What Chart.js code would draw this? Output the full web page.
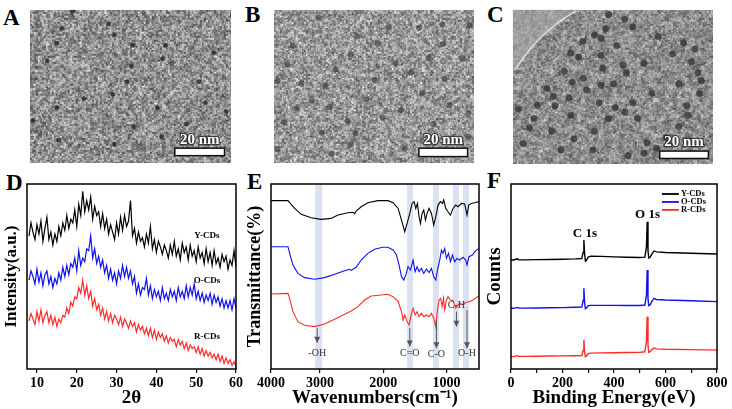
<!DOCTYPE html>
<html><head><meta charset="utf-8">
<script src="https://cdn.jsdelivr.net/npm/chart.js@4.4.0/dist/chart.umd.min.js"></script>
<style>
html,body{margin:0;padding:0;background:#fff}
body{width:732px;height:409px;position:relative;overflow:hidden}
.box{position:absolute}
.lbl{position:absolute;font:bold 23px "Liberation Serif",serif;color:#000;line-height:1}
</style></head><body>
<div class="lbl" style="left:3px;top:6px">A</div>
<div class="lbl" style="left:245px;top:3px">B</div>
<div class="lbl" style="left:487px;top:3px">C</div>
<div class="lbl" style="left:6px;top:171px">D</div>
<div class="lbl" style="left:247px;top:170px">E</div>
<div class="lbl" style="left:487px;top:169px">F</div>
<div class="box" style="left:25px;top:5px;width:211px;height:163px"><canvas id="temA"></canvas></div>
<div class="box" style="left:269px;top:5px;width:210px;height:163px"><canvas id="temB"></canvas></div>
<div class="box" style="left:508px;top:5px;width:210px;height:164px"><canvas id="temC"></canvas></div>
<div class="box" style="left:0px;top:175px;width:250px;height:234px"><canvas id="xrd"></canvas></div>
<div class="box" style="left:240px;top:175px;width:250px;height:234px"><canvas id="ftir"></canvas></div>
<div class="box" style="left:480px;top:175px;width:252px;height:234px"><canvas id="xps"></canvas></div>
<script>
// ---------------- DATA ----------------
// TEM particle positions (% of image width, % of image height from top)
const temA = [[15.8,12.2],[39.1,9.2],[42,16.3],[13.5,21.8],[51.2,23.1],[67.4,23.1],[91.4,28],[65.8,32],[8.7,33.3],[50.4,36.7],[48.3,46.9],[84,46.9],[26.9,57.8],[41.2,55.1],[63.4,63.9],[13.5,63.9],[87.2,60.6],[97.5,66.3],[51.5,76.1],[65.5,82.7],[42,87.8],[14.3,85.1],[1.6,72],[77.7,74.5],[21.4,1]];
const temB = [[22.5,5.1],[51.9,21.8],[72.5,11.6],[84.1,9.6],[97.9,10.2],[57.5,11.2],[9.5,23.5],[38.4,29.2],[31,38.8],[50.3,45.5],[1.9,46.3],[25.7,49.6],[68.6,40.8],[85.2,44.9],[84.4,22.4],[94,31.6],[97.1,67.3],[28.1,63.3],[11.4,64.3],[5.1,73.5],[24.1,80.2],[40.8,80.6],[63.5,65.3],[74.1,54.1],[19,59.2],[36.8,72.4],[54.3,70.4],[79.7,74.5],[65.4,90.8],[28.9,93.9],[38.4,87.8],[87.6,62.2],[1.9,90.8],[13.8,48],[46.3,58.2],[60.6,34.7],[77.3,31.6],[6.7,35.7],[41.6,17.3],[97.1,82.7]];
const temC = [[47.9,3.1],[55.9,6.1],[59.8,11.2],[46.3,12.2],[40.8,16.3],[44,18.4],[34.9,20.4],[51.9,23.1],[72.5,17.3],[85.2,21.4],[90.8,25.5],[28.9,28],[32.9,30.6],[44,29.6],[65.4,34.7],[79.7,28.6],[89.2,33.7],[25.7,39.8],[29.7,46.9],[35.2,44.3],[44.8,37.8],[55.1,35.7],[56.7,40.8],[17,51],[20.2,56.1],[28.1,57.1],[36.8,52],[44,49],[50.3,48],[12.2,61.8],[21,62.2],[28.9,68.4],[43.2,60.2],[51.1,63.3],[59.8,60.2],[69.4,54.1],[82.9,48],[92.4,40.8],[94,45.9],[93.2,54.1],[86.8,62.2],[87.3,68.4],[82.9,75.5],[62.2,70.4],[55.9,66.3],[10.6,70.4],[8.3,76.5],[19.4,78.6],[30.5,83.7],[40.8,78.6],[47.9,70.4],[67,86.3],[71.7,89.8],[57.5,94.5],[65.4,92.9],[5.1,86.7],[24.1,90.8],[76.5,82.7],[2.7,64.3],[40,90.8]];
// film edge in image C (% coords)
const temCEdge = [[1.1,38.8],[5.1,31.6],[9.8,23.5],[15.4,16.3],[21.7,9.2],[27.3,4.1],[31.3,1]];

// XRD (panel D)
const twoTheta = [8,8.5,9,9.5,10,10.5,11,11.5,12,12.5,13,13.5,14,14.5,15,15.5,16,16.5,17,17.5,18,18.5,19,19.5,20,20.5,21,21.5,22,22.5,23,23.5,24,24.5,25,25.5,26,26.5,27,27.5,28,28.5,29,29.5,30,30.5,31,31.5,32,32.5,33,33.5,34,34.5,35,35.5,36,36.5,37,37.5,38,38.5,39,39.5,40,40.5,41,41.5,42,42.5,43,43.5,44,44.5,45,45.5,46,46.5,47,47.5,48,48.5,49,49.5,50,50.5,51,51.5,52,52.5,53,53.5,54,54.5,55,55.5,56,56.5,57,57.5,58,58.5,59,59.5,60];
const xrdY = [72,79,74,70,78,73,80,69,76,82, 70,74,67,73,69,77,72,79,75,83, 76,81,79,86,77,89,83,96,85,91, 86,93,81,88,83,85,77,84,76,81, 73,78,74,70,79,73,82,75,83,77, 80,91,72,76,68,74,69,71,66,73, 68,77,65,70,63,69,66,62,67,64, 60,67,62,69,61,65,59,68,63,66, 59,67,61,64,58,66,60,63,57,65, 58,63,56,64,57,60,55,62,58,61, 54,59,56,64,55];
const xrdO = [48,53,50,46,54,47,52,45,51,53, 46,50,44,49,46,52,48,55,50,56, 51,57,55,60,53,64,56,60,58,65, 64,72,60,65,57,61,55,59,52,56, 49,54,48,52,46,53,49,56,50,55, 49,53,46,50,41,46,40,44,43,49, 40,45,38,43,39,42,37,44,38,41, 37,43,39,42,37,44,39,42,38,45, 39,44,40,46,38,42,37,41,36,40, 37,41,35,40,36,39,34,38,33,37, 33,37,32,38,33];
const xrdR = [26,30,27,24,31,26,32,25,29,31, 25,29,24,28,23,27,25,29,28,33, 30,36,34,39,38,44,41,48,40,45, 38,42,34,38,32,35,29,33,27,31, 26,30,25,29,27,24,28,23,27,25, 22,26,23,25,20,24,21,23,19,22, 18,22,17,21,16,20,17,19,15,18, 14,17,15,16,12,16,13,15,11,14, 10,13,11,12,9,12,8,11,7,10, 7,9,6,8,5,8,4,7,3,6, 3,5,2,4,1];
const xrdTicks = [10,20,30,40,50,60];
const xrdNames = ['Y-CDs','O-CDs','R-CDs'];

// FTIR (panel E)
const ftirBlackX = [3771,3507,3401,3297,3139,2981,2823,2717,2611,2559,2480,2450,2428,2349,2243,2085,1927,1843,1764,1711,1659,1622,1580,1543,1512,1485,1459,1433,1411,1385,1359,1332,1306,1275,1237,1201,1169,1133,1095,1063,1043,1011,975,937,896,853,817,763,711,675,648,605,553,485];
const ftirBlackY = [91.0,91.0,86.8,83.6,81.8,80.9,81.4,83.2,84.1,84.5,84.7,84.0,85.4,87.7,89.9,91.0,91.0,89.9,86.8,80.5,74.2,78.7,84.1,89.5,90.5,86.8,89.5,82.3,78.7,84.1,85.9,80.5,84.1,86.8,84.1,77.8,82.3,88.6,90.5,89.5,91.4,86.8,85.0,83.2,86.8,88.6,87.7,89.5,89.2,83.2,88.6,89.5,89.9,90.5];
const ftirBlueX = [3771,3507,3480,3428,3349,3243,3085,2927,2769,2611,2532,2507,2428,2349,2243,2137,2006,1927,1843,1790,1749,1711,1675,1643,1607,1569,1527,1496,1464,1433,1395,1359,1316,1275,1237,1201,1169,1137,1106,1079,1054,1027,1000,968,937,905,869,833,790,738,695,675,643,589,537,485];
const ftirBlueY = [66.1,66.1,62.5,56.2,51.7,49.4,48.5,49.4,51.2,53.1,53.9,53.3,55.0,58.9,62.5,64.7,65.8,65.8,64.3,61.6,56.2,49.9,48.1,50.8,55.3,53.5,58.9,52.6,55.3,52.6,54.4,51.7,53.9,52.1,54.4,49.9,48.1,54.4,58.9,64.3,62.5,65.2,59.8,62.5,58.0,61.6,58.0,59.8,58.9,60.4,58.9,56.2,60.7,61.6,64.0,65.2];
const ftirRedX = [3771,3507,3480,3428,3349,3243,3085,2927,2769,2611,2507,2401,2295,2191,2033,1927,1843,1764,1711,1685,1659,1622,1591,1553,1527,1496,1464,1433,1395,1359,1316,1275,1237,1201,1169,1148,1117,1090,1069,1047,1027,1000,975,937,896,853,817,779,738,695,643,580,526,485];
const ftirRedY = [40.5,40.9,38.2,31.0,25.6,23.6,22.9,24.3,26.9,29.6,31.4,33.7,37.3,39.5,40.0,40.4,39.1,36.4,31.0,26.5,29.2,25.6,23.8,30.1,32.8,29.2,31.0,28.3,30.1,28.3,29.2,28.3,30.1,27.4,22.9,30.1,37.3,38.2,33.7,38.2,31.9,37.3,39.1,37.3,36.9,32.8,34.6,35.5,34.6,35.9,36.4,37.3,38.7,39.5];
const ftirTickValues = [3775,3000,2000,1000];
const ftirTickLabels = ['4000','3000','2000','1000'];
const ftirBands = [[3075,2965],[1622,1527],[1212,1117],[896,801],[738,643]];
const ftirGroups = ['-OH','C=O','C-O','C-H','O-H'];
const ftirGroupWn = [3044,1580,1158,842,675];

// XPS (panel F)
const xpsBE = [0,10,25,30,50,100,150,200,250,275,280,283,286,289,292,300,310,350,400,450,500,520,526,529,532,535,540,548,556,565,600,700,800];
const xpsY = [58.9,58.9,59.6,59.0,59.0,59.1,59.2,59.3,59.5,59.7,63,69.7,62,58.4,58.6,60.5,61.0,60.9,60.6,60.4,60.3,60.5,66,79.6,64,60.0,60.3,62.4,63.8,63.3,63.0,62.6,62.2];
const xpsO = [32.8,32.8,33.3,32.9,32.9,33.0,33.1,33.2,33.4,33.5,37,43.6,35.5,32.5,32.8,34.2,34.4,34.4,34.4,34.3,34.3,34.6,40,53.5,38,34.2,34.6,36.8,38.2,37.6,37.3,36.9,36.4];
const xpsR = [6.7,6.7,7.2,6.8,6.8,6.9,7.0,7.1,7.2,7.3,10,15.7,9.0,6.6,6.9,8.3,8.6,8.7,8.8,8.9,9.0,9.3,15,28.3,13,9.0,9.4,10.6,11.3,10.9,10.7,10.5,10.2];
const xpsTicks = [0,100,200,300,400,500,600,700,800];
const xpsTickLabels = ['0','','200','','400','','600','','800'];
const xpsPeaks = ['C 1s','O 1s'];

// ---------------- STYLE / HELPERS ----------------
const SERIF = '"Liberation Serif", serif';
const BLACK = '#000000', BLUE = '#1010f0', RED = '#ff2a2a';
const hash = (i,j,s) => { let n = (Math.imul(i,374761393) + Math.imul(j,668265263) + Math.imul(s,1442695041)) | 0; n = Math.imul(n ^ (n>>>13), 1274126177); n ^= n>>>16; return (n>>>0)/4294967296; };

const temPlugin = {
  id:'tem',
  beforeDatasetsDraw(chart, args, o){
    const {ctx, chartArea:a} = chart;
    const w = Math.round(a.right-a.left), h = Math.round(a.bottom-a.top);
    if(!chart.$tex || chart.$tex.width!==w || chart.$tex.height!==h){
      const off = document.createElement('canvas'); off.width=w; off.height=h;
      const c = off.getContext('2d'); const im = c.createImageData(w,h);
      for(let j=0;j<h;j++) for(let i=0;i<w;i++){
        const n1 = hash(i>>1,j>>1,o.seed), n2 = hash(i,j,o.seed+7), n3 = hash(i>>2,j>>2,o.seed+13);
        let v = o.base + (n1-0.5)*o.a1 + (n2-0.5)*o.a2 + (n3-0.5)*o.a3;
        if(n2>0.94) v += o.spark;
        v = Math.max(0,Math.min(255,v));
        const k=(j*w+i)*4; im.data[k]=im.data[k+1]=im.data[k+2]=v; im.data[k+3]=255;
      }
      c.putImageData(im,0,0); chart.$tex = off;
    }
    ctx.save();
    ctx.drawImage(chart.$tex, a.left, a.top, w, h);
    if(o.edge){
      const xs = chart.scales.x, ys = chart.scales.y;
      ctx.beginPath();
      ctx.moveTo(xs.getPixelForValue(0), ys.getPixelForValue(0));
      ctx.lineTo(xs.getPixelForValue(34), ys.getPixelForValue(0));
      o.edge.slice().reverse().forEach(p=>ctx.lineTo(xs.getPixelForValue(p[0]), ys.getPixelForValue(p[1])));
      ctx.lineTo(xs.getPixelForValue(0), ys.getPixelForValue(41));
      ctx.closePath();
      ctx.fillStyle='rgba(170,170,170,0.6)'; ctx.fill();
      ctx.beginPath();
      o.edge.forEach((p,i)=>{const X=xs.getPixelForValue(p[0]),Y=ys.getPixelForValue(p[1]); i?ctx.lineTo(X,Y):ctx.moveTo(X,Y);});
      ctx.strokeStyle='rgba(235,235,235,0.8)'; ctx.lineWidth=1.6; ctx.stroke();
    }
    ctx.restore();
  },
  afterDatasetsDraw(chart, args, o){
    const {ctx} = chart; const xs = chart.scales.x, ys = chart.scales.y; const b = o.bar;
    const x0 = xs.getPixelForValue(b[0]), x1 = xs.getPixelForValue(b[1]);
    const y0 = ys.getPixelForValue(b[2]), y1 = ys.getPixelForValue(b[3]);
    ctx.save();
    ctx.fillStyle='#fff'; ctx.fillRect(x0,y0,x1-x0,y1-y0);
    ctx.strokeStyle='#111'; ctx.lineWidth=1.5; ctx.strokeRect(x0,y0,x1-x0,y1-y0);
    ctx.font='bold 15px '+SERIF; ctx.textAlign='center'; ctx.textBaseline='bottom';
    ctx.lineWidth=2.5; ctx.strokeStyle='rgba(40,40,40,0.8)';
    ctx.strokeText('20 nm',(x0+x1)/2, y0-1);
    ctx.fillStyle='#fff'; ctx.fillText('20 nm',(x0+x1)/2, y0-1);
    ctx.restore();
  }
};

function temChart(id, pts, opt){
  new Chart(document.getElementById(id), {
    type:'scatter',
    data:{datasets:[{data:pts.map(p=>({x:p[0],y:p[1]})), pointRadius:opt.r, pointBackgroundColor:opt.col, pointBorderWidth:0.8, pointBorderColor:opt.ring}]},
    options:{responsive:true, maintainAspectRatio:false, animation:false, events:[],
      layout:{padding:0},
      plugins:{legend:{display:false}, tooltip:{enabled:false}, tem:opt},
      scales:{x:{display:false,min:0,max:100}, y:{display:false,min:0,max:100,reverse:true}}},
    plugins:[temPlugin]
  });
}
temChart('temA', temA, {seed:11, base:142, a1:95, a2:40, a3:30, spark:45, r:2.2, col:'rgba(35,35,35,0.8)', ring:'rgba(60,60,60,0.4)', bar:[72,96.7,90.2,95.1]});
temChart('temB', temB, {seed:23, base:150, a1:85, a2:55, a3:25, spark:40, r:2.9, col:'rgba(60,60,60,0.62)', ring:'rgba(80,80,80,0.35)', bar:[72.4,96.7,90.2,95.7]});
temChart('temC', temC, {seed:37, base:140, a1:60, a2:45, a3:40, spark:30, r:3.3, col:'rgba(45,45,45,0.72)', ring:'rgba(70,70,70,0.4)', bar:[73.3,97.6,91.5,96.3], edge:temCEdge});

// decoration plugin for spectra panels
const decoPlugin = {
  id:'deco',
  beforeDatasetsDraw(chart, args, o){
    const {ctx, chartArea:a} = chart; const xs = chart.scales.x;
    ctx.save();
    (o.bands||[]).forEach(b=>{
      const p0 = xs.getPixelForValue(b[0]), p1 = xs.getPixelForValue(b[1]);
      ctx.fillStyle='rgba(205,215,238,0.75)';
      ctx.fillRect(Math.min(p0,p1), a.top, Math.abs(p1-p0), a.bottom-a.top);
    });
    ctx.restore();
  },
  afterDatasetsDraw(chart, args, o){
    const {ctx, chartArea:a} = chart; const xs = chart.scales.x, ys = chart.scales.y;
    ctx.save();
    (o.lines||[]).forEach(l=>{
      const X0=xs.getPixelForValue(l.x0), Y0=ys.getPixelForValue(l.y0), X1=xs.getPixelForValue(l.x1), Y1=ys.getPixelForValue(l.y1);
      ctx.strokeStyle=l.color; ctx.lineWidth=l.width; ctx.beginPath(); ctx.moveTo(X0,Y0); ctx.lineTo(X1,Y1); ctx.stroke();
      if(l.arrow){ ctx.fillStyle=l.color; ctx.beginPath(); ctx.moveTo(X1,Y1); ctx.lineTo(X1-3,Y1-6); ctx.lineTo(X1+3,Y1-6); ctx.closePath(); ctx.fill(); }
    });
    (o.texts||[]).forEach(t=>{
      ctx.font=t.font; ctx.fillStyle=t.color||'#000'; ctx.textAlign=t.align||'center'; ctx.textBaseline='middle';
      ctx.fillText(t.text, xs.getPixelForValue(t.x), ys.getPixelForValue(t.y));
    });
    ctx.strokeStyle='#000'; ctx.lineWidth=1.5;
    ctx.strokeRect(a.left, a.top, a.right-a.left, a.bottom-a.top);
    if(o.ytitle){
      ctx.translate(o.ytitle.x, (a.top+a.bottom)/2); ctx.rotate(-Math.PI/2);
      ctx.font='bold '+o.ytitle.size+'px '+SERIF; ctx.fillStyle='#000'; ctx.textAlign='center'; ctx.textBaseline='middle';
      ctx.fillText(o.ytitle.text,0,0);
    }
    ctx.restore();
  }
};

function xAxis(min, max, reverse, tickVals, labelFn, title){
  return {type:'linear', min, max, reverse,
    afterBuildTicks: s => { s.ticks = tickVals.map(v=>({value:v})); },
    afterFit: s => { s.height = 40; },
    ticks:{callback:labelFn, font:{family:SERIF, weight:'bold', size:14}, color:'#000', maxRotation:0, autoSkip:false, padding:2},
    grid:{display:true, drawOnChartArea:false, tickLength:4, color:'#000', lineWidth:1.2},
    border:{display:false},
    title:{display:true, text:title, font:{family:SERIF, weight:'bold', size:19}, color:'#000', padding:{top:0,bottom:0}}
  };
}
function lineDs(xs, ys, color, w){
  return {data:xs.map((x,i)=>({x, y:ys[i]})), borderColor:color, borderWidth:w, pointRadius:0, tension:0, fill:false};
}
function specChart(id, datasets, xscale, pad, deco){
  new Chart(document.getElementById(id), {
    type:'line',
    data:{datasets},
    options:{responsive:true, maintainAspectRatio:false, animation:false, events:[], parsing:true,
      layout:{padding:pad},
      plugins:{legend:{display:false}, tooltip:{enabled:false}, deco},
      scales:{x:xscale, y:{display:false, min:0, max:100}}},
    plugins:[decoPlugin]
  });
}

// Panel D
specChart('xrd',
  [lineDs(twoTheta, xrdY, BLACK, 1.2), lineDs(twoTheta, xrdO, BLUE, 1.2), lineDs(twoTheta, xrdR, RED, 1.2)],
  xAxis(7.5, 60, false, xrdTicks, v=>String(v), '2θ'),
  {left:27, right:14, top:9, bottom:0},
  {texts:[
    {text:xrdNames[0], x:52.7, y:72, font:'bold 9px '+SERIF},
    {text:xrdNames[1], x:52.7, y:47.6, font:'bold 9px '+SERIF},
    {text:xrdNames[2], x:52.7, y:17.3, font:'bold 9px '+SERIF}],
   ytitle:{text:'Intensity(a.u.)', x:12, size:17}});

// Panel E
const arrowTop = [22.0, 22.2, 26.5, 31.0, 31.9];
const arrowBot = [14.2, 12.1, 11.2, 22.9, 11.2];
const labelY = [8.6, 8.6, 8.1, 34.6, 8.6];
specChart('ftir',
  [lineDs(ftirBlackX, ftirBlackY, BLACK, 1.1), lineDs(ftirBlueX, ftirBlueY, BLUE, 1.1), lineDs(ftirRedX, ftirRedY, RED, 1.1)],
  xAxis(485, 3775, true, ftirTickValues, (v,i)=>ftirTickLabels[i], 'Wavenumbers(cm⁻¹)'),
  {left:31, right:11, top:9, bottom:0},
  {bands:ftirBands,
   lines:ftirGroupWn.map((w,i)=>({x0:w, y0:arrowTop[i], x1:w, y1:arrowBot[i], color:'#555', width:1, arrow:true})),
   texts:ftirGroups.map((g,i)=>({text:g, x:ftirGroupWn[i], y:labelY[i], font:'10px '+SERIF, color:'#333'})),
   ytitle:{text:'Transmittance(%)', x:15, size:18}});

// Panel F
specChart('xps',
  [lineDs(xpsBE, xpsY, BLACK, 1.4), lineDs(xpsBE, xpsO, BLUE, 1.4), lineDs(xpsBE, xpsR, RED, 1.4)],
  xAxis(0, 800, false, xpsTicks, (v,i)=>xpsTickLabels[i], 'Binding Energy(eV)'),
  {left:31, right:15, top:9, bottom:0},
  {lines:[
    {x0:586, y0:94.6, x1:652, y1:94.6, color:BLACK, width:1.8},
    {x0:586, y0:90.3, x1:652, y1:90.3, color:BLUE, width:1.8},
    {x0:586, y0:86.0, x1:652, y1:86.0, color:RED, width:1.8}],
   texts:[
    {text:xrdNames[0], x:660, y:94.6, font:'bold 8.5px '+SERIF, align:'left'},
    {text:xrdNames[1], x:660, y:90.3, font:'bold 8.5px '+SERIF, align:'left'},
    {text:xrdNames[2], x:660, y:86.0, font:'bold 8.5px '+SERIF, align:'left'},
    {text:xpsPeaks[0], x:287, y:73, font:'bold 13px '+SERIF},
    {text:xpsPeaks[1], x:530, y:83.2, font:'bold 13px '+SERIF}],
   ytitle:{text:'Counts', x:15.5, size:19}});
</script>
</body></html>
